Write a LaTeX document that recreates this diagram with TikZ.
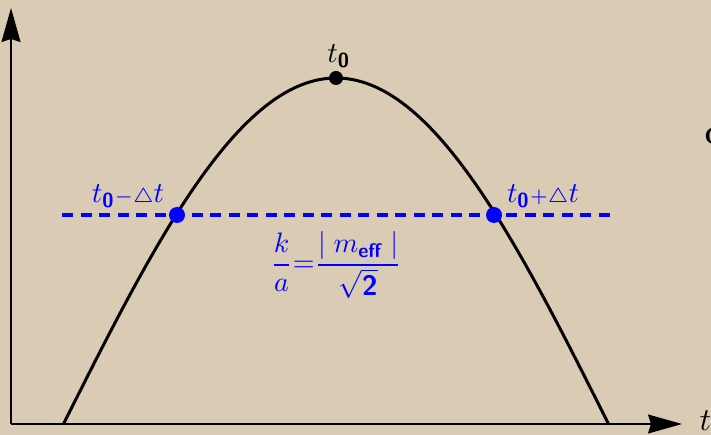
\documentclass[tikz,border=0pt]{standalone}
\usepackage{amsmath}
\usetikzlibrary{arrows.meta}
\definecolor{paper}{RGB}{218,204,180}
\definecolor{myblue}{RGB}{0,0,255}
\newcommand{\bsub}[1]{\text{\sffamily\bfseries #1}}
\begin{document}
\begin{tikzpicture}[x=1pt,y=-1pt,
  axisline/.style={line width=1.3pt,-{Stealth[length=34pt,width=19pt,inset=3pt]}},
  bluedot/.style={circle,fill=myblue,inner sep=0pt,minimum size=16pt},
  blackdot/.style={circle,fill=black,inner sep=0pt,minimum size=14pt},
  lab/.style={scale=2.9,inner sep=0.5pt},
  bluelab/.style={lab,text=myblue},
  dashline/.style={myblue,line width=4pt,dash pattern=on 11pt off 7.5pt}]
\fill[paper] (0,0) rectangle (711,435);
\useasboundingbox (0,0) rectangle (711,435);
\coordinate (O) at (11,424);
\coordinate (Ytop) at (11,8);
\coordinate (Xend) at (682,424);
\draw[axisline] (O) -- (Ytop);
\draw[axisline] (O) -- (Xend);
\node[scale=3.2, anchor=west, inner sep=0pt] (tlab) at (699,421) {$t$};
\node[scale=2.4, anchor=west, inner sep=0pt] (cut) at (704,136) {\bfseries C};
\coordinate (DL) at (62,215);
\coordinate (DR) at (611,215);
\draw[dashline] (DL) -- (DR);
\draw[line width=3pt] plot[domain=63.5:608.5,samples=120] (\x,{424-346*cos(0.33028*(\x-336))});
\node[blackdot] (top) at (336,78) {};
\node[bluedot] (left) at (177,215) {};
\node[bluedot] (right) at (494,215) {};
\node[lab, anchor=south] (t0) at ([xshift=3pt,yshift=1pt]top.north) {$t_{\bsub{0}}$};
\node[bluelab, anchor=south] (tl) at (128,210) {$t_{\bsub{0}}{\scriptstyle-}{\scriptstyle\triangle}t$};
\node[bluelab, anchor=south] (tr) at (543,210) {$t_{\bsub{0}}{\scriptstyle+}{\scriptstyle\triangle}t$};
\node[bluelab, scale=0.97] (form) at (336,265) {$\displaystyle \frac{k}{a}{=}\frac{\textsf{|}\;m_{\bsub{eff}}\;\textsf{|}}{\sqrt{\bsub{2}}}$};
\end{tikzpicture}
\end{document}
